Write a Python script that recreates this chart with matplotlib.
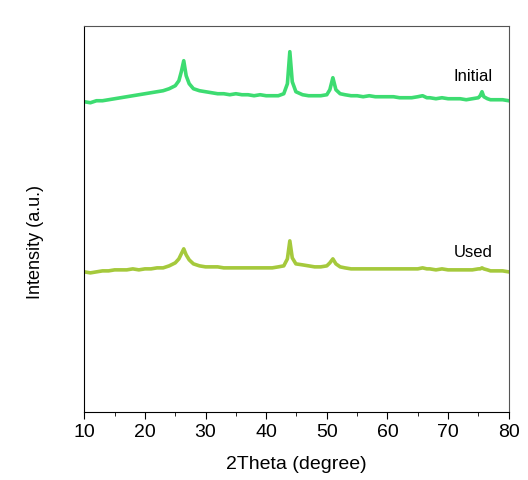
import matplotlib.pyplot as plt

plt.rcParams['font.family'] = ['Liberation Sans', 'DejaVu Sans']

# ------------------------------------------------------------
# XRD data (intensity in a.u.)
# ------------------------------------------------------------
two_theta = [10, 11, 12, 13, 14, 15, 16, 17, 18, 19, 20, 21, 22, 23, 24, 25,
             25.6, 26.0, 26.4, 26.8, 27.3, 28.0, 29, 30, 31, 32, 33, 34, 35, 36,
             37, 38, 39, 40, 41, 42, 42.9, 43.5, 43.9, 44.3, 44.9, 46, 47, 48,
             49, 50, 50.5, 51.0, 51.5, 52.2, 53, 54, 55, 56, 57, 58, 59, 60, 61,
             62, 63, 64, 65, 65.8, 66.5, 67, 68, 69, 70, 71, 72, 73, 74, 75,
             75.3, 75.6, 75.9, 76.5, 77, 78, 79, 80]

initial = [310, 309, 311, 311, 312, 313, 314, 315, 316, 317, 318, 319, 320, 321, 323, 326,
           331, 340, 351, 336, 328, 323, 321, 320, 319, 318, 318, 317, 318, 317,
           317, 316, 317, 316, 316, 316, 318, 328, 360, 330, 320, 317, 316, 316,
           316, 317, 322, 334, 322, 318, 317, 316, 316, 315, 316, 315, 315, 315, 315,
           314, 314, 314, 315, 316, 314, 314, 313, 314, 313, 313, 313, 312, 313, 314,
           316, 320, 315, 313, 312, 312, 312, 311]

used = [140, 139, 140, 141, 141, 142, 142, 142, 143, 142, 143, 143, 144, 144, 146, 149,
        153, 158, 163, 157, 152, 148, 146, 145, 145, 145, 144, 144, 144, 144,
        144, 144, 144, 144, 144, 145, 146, 153, 171, 154, 148, 147, 146, 145,
        145, 146, 149, 153, 148, 145, 144, 143, 143, 143, 143, 143, 143, 143, 143,
        143, 143, 143, 143, 144, 143, 143, 142, 143, 142, 142, 142, 142, 142, 143,
        143, 144, 143, 142, 141, 141, 141, 140]

x_ticks = [10, 20, 30, 40, 50, 60, 70, 80]

# ------------------------------------------------------------
# Plot
# ------------------------------------------------------------
fig = plt.figure(figsize=(5.28, 4.8), dpi=100)
ax = fig.add_axes([0.1597, 0.1417, 0.8037, 0.8048])

ax.plot(two_theta, initial, color='#3ddc71', linewidth=2.6)
ax.plot(two_theta, used, color='#a5c93c', linewidth=2.6)

ax.text(77.4, 335, 'Initial', ha='right', va='center', fontsize=12)
ax.text(77.3, 159, 'Used', ha='right', va='center', fontsize=12)

ax.set_xlim(10, 80)
ax.set_ylim(0, 386)
ax.set_xticks(x_ticks)
ax.set_xticks(range(15, 80, 10), minor=True)
ax.set_yticks([])
ax.tick_params(axis='x', which='major', direction='out', length=5, labelsize=14)
ax.tick_params(axis='x', which='minor', direction='out', length=3)

ax.set_xlabel('2Theta (degree)', fontsize=14, labelpad=11)
ax.set_ylabel('Intensity (a.u.)', fontsize=13)
ax.yaxis.set_label_coords(-0.095, 0.44)

for side in ['top', 'right']:
    ax.spines[side].set_color('#555555')

fig.savefig('out.png', dpi=100)
